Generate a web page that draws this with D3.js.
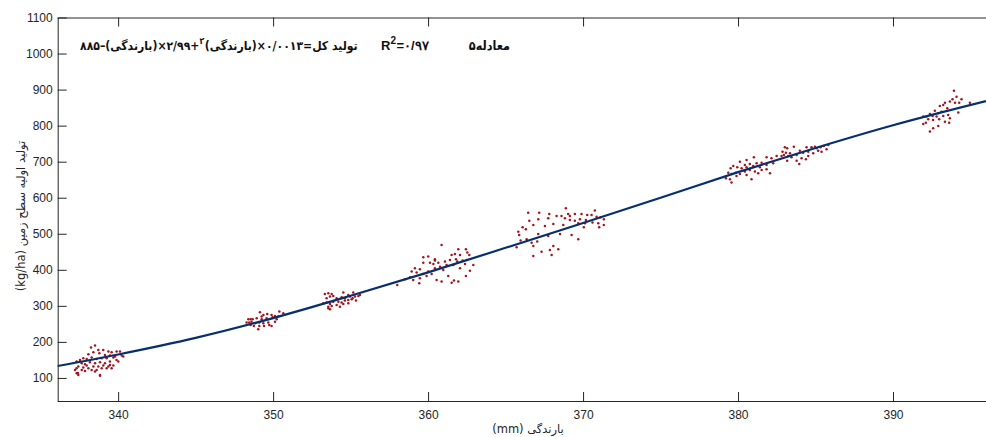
<!DOCTYPE html>
<html><head><meta charset="utf-8">
<script src="https://cdn.jsdelivr.net/npm/d3@7"></script>
<style>
html,body{margin:0;padding:0;background:#fff;}
svg{display:block;}
.tick text{font-family:"Liberation Sans",Arial,sans-serif;font-size:12px;fill:#262626;}
</style></head>
<body>
<svg id="chart" width="986" height="437"></svg>
<script>
// ---------- DATA ----------
const xTicks = [340, 350, 360, 370, 380, 390];
const yTicks = [100, 200, 300, 400, 500, 600, 700, 800, 900, 1000, 1100];

// fitted curve
const curveX = [336.1, 340, 345, 350, 355, 360, 365, 370, 375, 380, 385, 390, 396];
const curveY = [133, 165, 211, 266, 328, 393, 461, 530, 600, 671, 738, 801, 868];

// observations [rainfall mm, production kg/ha], one array per cluster
const cluster1 = [[338.51,189.7],[338.25,184.2],[338.72,177.7],[339.04,177.7],[338.4,171.2],[338.79,168.4],[338.08,165.7],[339.37,173.1],[339.58,171.2],[339.9,173.1],[340.12,173.1],[339.15,163.8],[339.47,162],[339.8,159.2],[340.33,159.2],[337.75,154.6],[337.97,152.7],[337.54,150],[338.29,156.4],[338.61,152.7],[338.94,154.6],[339.26,154.6],[339.69,156.4],[337.32,145.3],[337.65,140.7],[337.86,137.9],[338.18,143.5],[338.51,140.7],[338.83,143.5],[339.15,140.7],[339.47,145.3],[339.9,150],[337.43,131.5],[337.75,128.7],[338.08,126.8],[338.4,131.5],[338.72,131.5],[339.04,134.2],[339.37,131.5],[339.69,134.2],[337.32,126.8],[337.97,134.2],[338.29,122.2],[338.61,122.2],[338.94,126.8],[339.26,126.8],[339.58,126.8],[337.22,122.2],[337.65,122.2],[337.86,119.4],[338.51,117.6],[337.32,113],[337.43,108.3],[338.83,108.3],[339.47,136.1],[340.01,145.3],[340.23,162],[337.4,114],[338.83,106]];
const cluster2 = [[349.15,282.1],[349.37,274.7],[349.62,277.5],[349.9,274.7],[350.12,272],[350.4,284],[350.66,279.3],[348.4,262.7],[348.55,262.7],[348.68,262.7],[348.94,265.5],[349.26,262.7],[349.58,265.5],[349.97,268.2],[350.23,262.7],[348.29,253.5],[348.46,253.5],[348.61,256.2],[348.83,251.6],[349.11,253.5],[349.37,251.6],[349.69,253.5],[350.12,256.2],[348.55,247],[348.76,244.2],[349.11,244.2],[349.41,244.2],[349.75,247],[349.9,244.2],[349.04,235],[349.26,270.1],[350.33,270.1]];
const cluster3 = [[353.34,333],[353.56,334.8],[353.78,333],[353.67,325.6],[353.88,327.4],[354.53,336.7],[354.85,330.2],[355.17,336.7],[353.45,321],[354.1,321],[354.42,323.7],[354.63,321],[354.96,325.6],[355.28,325.6],[355.5,327.4],[353.24,307.1],[353.45,309],[353.67,305.2],[353.88,311.7],[354.21,311.7],[354.42,309],[354.63,314.5],[354.85,316.3],[355.07,318.2],[355.35,314.5],[353.56,297.8],[353.78,299.7],[354.1,302.5],[354.53,305.2],[353.67,290.4],[353.56,293.2],[354.31,297.8],[354.85,307.1],[355.13,321],[355.6,330.2]];
const cluster4 = [[360.87,468.9],[361.95,456.9],[362.44,456.9],[359.69,434.7],[360.01,436.6],[360.44,429.2],[361.52,441.2],[361.73,444],[362.06,441.2],[362.53,447.7],[362.66,441.2],[359.15,404.2],[359.47,401.4],[359.69,419.9],[360.12,419.9],[360.34,416.2],[360.66,419.9],[361.09,422.7],[361.41,427.3],[361.8,429.2],[361.88,422.7],[362.23,425.5],[362.49,427.3],[358.94,395],[359.26,392.2],[359.69,388.5],[360.01,395],[360.44,404.2],[360.77,408.8],[361.19,413.5],[361.63,413.5],[362.06,404.2],[362.38,416.2],[362.92,413.5],[358.51,373.7],[358.83,379.3],[359.04,371.8],[359.47,376.5],[359.9,383],[360.23,388.5],[360.55,371.8],[360.87,367.2],[361.3,383],[361.67,370],[361.95,367.2],[362.44,383],[362.7,397.7],[358.01,358],[359.43,362.6],[361.52,364.4],[360.44,425.5],[360.98,399.6]];
const cluster5 = [[368.89,570.6],[366.46,558.6],[367.17,558.6],[367.82,554.9],[368.29,549.4],[368.61,549.4],[369.04,554.9],[369.15,549.4],[369.47,554.9],[369.9,554.9],[370.27,552.2],[370.55,552.2],[370.76,564.2],[368.83,542.9],[369.15,538.3],[369.47,536.4],[369.8,540.1],[370.18,538.3],[370.87,547.5],[371.13,545.7],[371.34,540.1],[367.75,542.9],[367.11,540.1],[366.53,536.4],[366.79,524.4],[367.54,521.6],[368.08,527.2],[368.72,524.4],[369.69,529],[370.12,529],[370.61,530.9],[370.98,529],[371.34,524.4],[366.1,517.9],[366.31,512.4],[365.82,505.9],[365.88,496.7],[367.11,499.5],[367.75,493.9],[368.51,499.5],[369.26,496.7],[369.69,484.7],[370.05,517.9],[371.04,517.9],[366.36,484.7],[366.68,475.4],[365.97,481],[365.71,462.5],[366.79,466.2],[367.32,450.4],[367.86,455.1],[368.08,466.2],[368.4,456.9],[367.97,441.2],[366.79,438.4],[367.04,478.2]];
const cluster6 = [[381.02,712.1],[380.55,704.7],[380.12,700.1],[380.44,690.9],[380.76,693.6],[381.2,695.5],[381.52,697.3],[381.84,712.1],[382.16,709.3],[379.69,688.1],[379.95,684.4],[380.23,681.6],[380.55,684.4],[380.98,688.1],[381.41,684.4],[381.84,690.9],[382.27,695.5],[379.52,681.6],[379.37,669.6],[379.58,665.9],[379.86,669.6],[380.12,665.9],[380.44,672.4],[380.76,677],[381.09,672.4],[381.52,677],[381.84,678.8],[382.06,667.7],[379.22,653.9],[379.48,651.1],[379.58,641.9],[379.9,660.3],[380.55,663.1],[380.87,651.1],[381.3,667.7],[382.49,715.8]];
const cluster7 = [[383.02,739.9],[383.17,737.1],[383.6,741.7],[382.87,727.8],[383.09,725.1],[383.35,723.2],[382.96,718.6],[383.24,715.8],[383.45,712.1],[383.78,718.6],[383.99,730.6],[384.42,739.9],[384.74,739.9],[385.07,737.1],[384.96,741.7],[385.32,739.9],[385.54,743.6],[385.82,746.3],[384.2,725.1],[384.53,727.8],[384.85,723.2],[385.17,730.6],[385.39,727.8],[385.71,734.3],[383.78,702.9],[383.95,693.6],[384.1,709.3],[384.38,706.6],[384.53,715.8],[383.17,702.9],[382.81,715.8]];
const cluster8 = [[393.93,897.1],[394.1,880.4],[394.42,873.1],[393.84,873.1],[393.67,866.6],[394,863.8],[394.27,863.8],[393.35,863.8],[393.24,857.3],[393.02,854.5],[394.96,863.8],[393.5,848.1],[393.13,838.8],[392.92,834.2],[392.7,841.6],[392.38,832.4],[392.55,826.8],[392.16,825],[391.95,825],[392.27,817.6],[392.81,825],[393.24,826.8],[393.56,829.6],[392.98,817.6],[392.59,815.7],[392.12,808.3],[391.95,804.6],[393.67,820.3],[394.21,836.1],[393.35,811.1],[392.92,799.1],[392.59,792.6],[392.38,783.4],[393.62,808.3]];

const xLabel = "(mm) بارندگی";
const yLabel = "(kg/ha) تولید اولیه سطح زمین";
const eqPieces = ["۸۸۵–", "(بارندگی)", "×۲/۹۹+", "۲", "(بارندگی)", "×۰/۰۰۱۳=", "تولید کل"];
const r2Text = ["R", "2", "=۰/۹۷"];
const eqTitle = "معادله۵";

// ---------- CHART ----------
const svg = d3.select("#chart");
const L = 57.7, R = 986, T = 17.5, B = 401;
const x = d3.scaleLinear().domain([336.1, 396]).range([L, R]);
const y = d3.scaleLinear().domain([36, 1100]).range([B, T]);
const axisColor = "#262626";

// axes
const gx = svg.append("g").attr("transform", `translate(0,${B})`)
  .call(d3.axisBottom(x).tickValues(xTicks).tickSizeInner(-9).tickSizeOuter(0).tickPadding(9).tickFormat(d3.format("d")));
const gxt = svg.append("g").attr("transform", `translate(0,${T})`)
  .call(d3.axisTop(x).tickValues(xTicks).tickSizeInner(-9).tickSizeOuter(0).tickFormat(""));
const gy = svg.append("g").attr("transform", `translate(${L},0)`)
  .call(d3.axisLeft(y).tickValues(yTicks).tickSizeInner(-9).tickSizeOuter(0).tickPadding(5).tickFormat(d3.format("d")));
[gx, gxt, gy].forEach(g => {
  g.selectAll("path.domain").attr("stroke", axisColor).attr("stroke-width", 1);
  g.selectAll(".tick line").attr("stroke", axisColor).attr("stroke-width", 1);
});
gx.select("path.domain").attr("d", `M${L},0.5H${R}`);
gxt.select("path.domain").attr("d", `M${L},0.5H${R}`);

// curve
const line = d3.line().x(d => x(d[0])).y(d => y(d[1])).curve(d3.curveMonotoneX);
const curvePts = curveX.map((v, i) => [v, curveY[i]]);

// points
const allPts = [].concat(cluster1, cluster2, cluster3, cluster4, cluster5, cluster6, cluster7, cluster8);
svg.append("g").selectAll("circle").data(allPts).join("circle")
  .attr("cx", d => x(d[0])).attr("cy", d => y(d[1])).attr("r", 1.25)
  .attr("fill", "#a3141c");

svg.append("path").datum(curvePts).attr("d", line)
  .attr("fill", "none").attr("stroke", "#062f6e").attr("stroke-width", 2.2);

// axis labels
svg.append("text").attr("x", 528).attr("y", 433).attr("text-anchor", "middle")
  .attr("font-family", "DejaVu Sans, sans-serif").attr("font-size", 11.5).attr("fill", "#262626")
  .attr("direction", "ltr").text(xLabel);
svg.append("text").attr("transform", "translate(25,216) rotate(-90)").attr("text-anchor", "middle")
  .attr("font-family", "DejaVu Sans, sans-serif").attr("font-size", 11.5).attr("fill", "#262626")
  .attr("direction", "ltr").text(yLabel);

// equation text (pieces laid out left to right, fitted to the reference span)
const eqY = 50;
const eqG = svg.append("g");
function layoutEq(size, x0) {
  eqG.selectAll("*").remove();
  let cx = x0;
  eqPieces.forEach((p, i) => {
    const sup = (i === 3);
    const t = eqG.append("text").attr("x", cx).attr("y", sup ? eqY - 6 : eqY)
      .attr("font-family", "DejaVu Sans Condensed, DejaVu Sans, sans-serif").attr("font-weight", "bold")
      .attr("font-size", sup ? size * 0.72 : size).attr("fill", "#111").attr("direction", "ltr").text(p);
    cx += t.node().getComputedTextLength() + (sup ? 0.5 : 0);
  });
  return cx - x0;
}
const w0 = layoutEq(12.5, 80);
const eqSize = Math.min(13, 12.5 * 278 / w0);
layoutEq(eqSize, 80);

let rx = 381;
r2Text.forEach((p, i) => {
  const sup = (i === 1);
  const t = svg.append("text").attr("x", rx).attr("y", sup ? eqY - 6 : eqY)
    .attr("font-family", "Liberation Sans, Arial, sans-serif").attr("font-weight", "bold")
    .attr("font-size", sup ? 10 : 13).attr("fill", "#111").text(p);
  rx += t.node().getComputedTextLength() + (sup ? 0.5 : 0);
});
svg.append("text").attr("x", 510).attr("y", eqY).attr("text-anchor", "end")
  .attr("font-family", "DejaVu Sans Condensed, DejaVu Sans, sans-serif").attr("font-weight", "bold")
  .attr("font-size", 12.5).attr("fill", "#111").text(eqTitle);
</script>
</body></html>
